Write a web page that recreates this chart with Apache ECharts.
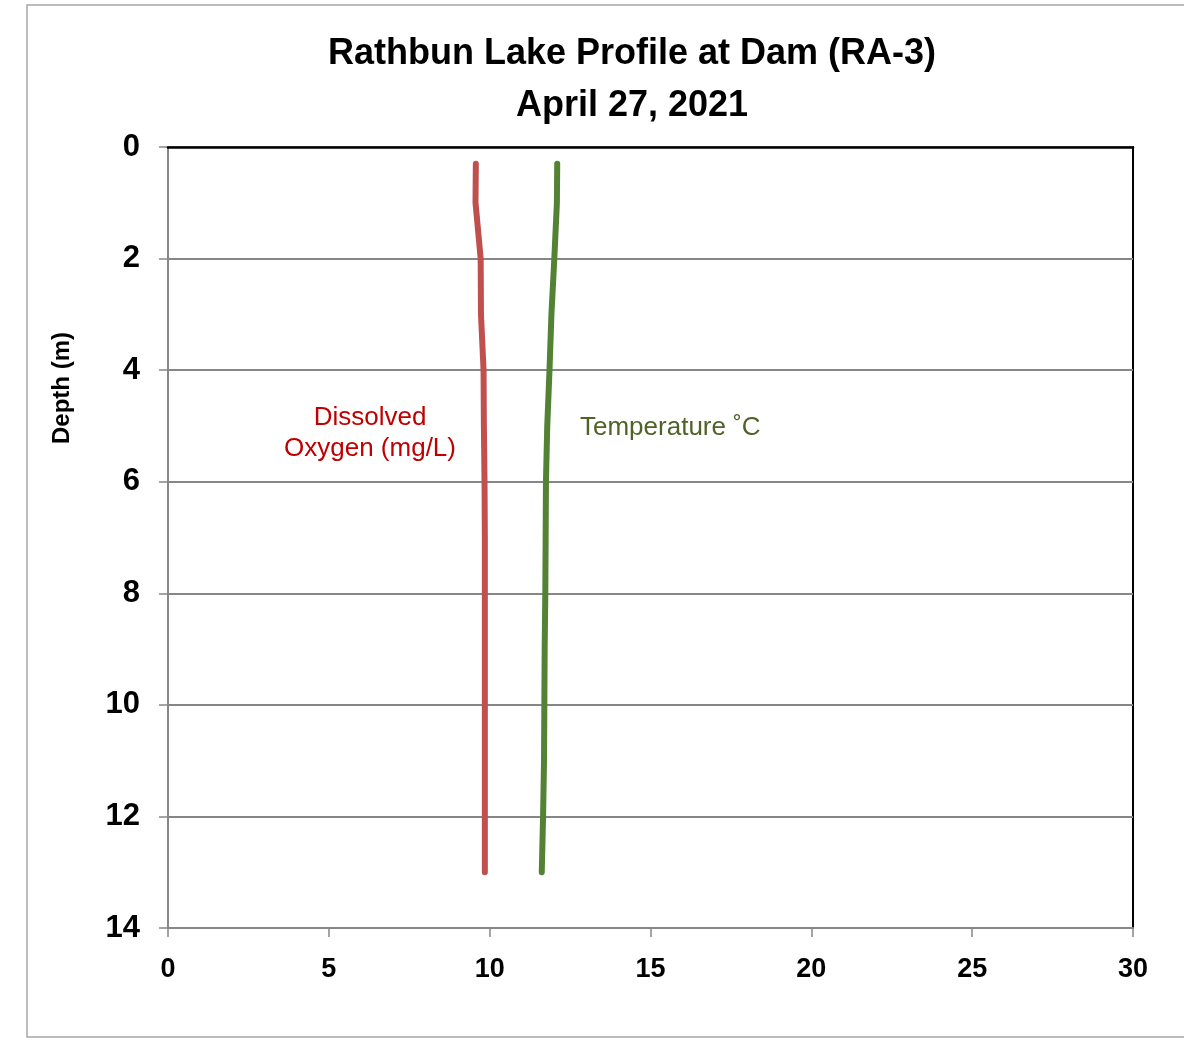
<!DOCTYPE html>
<html>
<head>
<meta charset="utf-8">
<script src="https://cdn.jsdelivr.net/npm/echarts@6/dist/echarts.min.js"></script>
<style>
  html, body { margin: 0; padding: 0; background: #fff; }
</style>
</head>
<body>
<div id="profile" style="width: 1184px;height:1048px;"></div>
<script>
// depth of each reading (m)
var depths = [0.3, 1, 2, 3, 4, 5, 6, 7, 8, 9, 10, 11, 12, 13]
// dissolved oxygen (mg/L)
var oxygen = [9.57, 9.56, 9.72, 9.73, 9.81, 9.82, 9.84, 9.85, 9.85, 9.85, 9.85, 9.85, 9.85, 9.85]
// temperature (C)
var temperature = [12.1, 12.09, 12.01, 11.92, 11.86, 11.79, 11.75, 11.74, 11.73, 11.71, 11.7, 11.69, 11.66, 11.62]
var xTicks = [0, 5, 10, 15, 20, 25, 30]
var yTicks = [0, 2, 4, 6, 8, 10, 12, 14]

function pairs (vals) {
  return vals.map(function (v, i) { return [v, depths[i]] })
}

var option = {
  animation: false,
  title: {
    text: 'Rathbun Lake Profile at Dam (RA-3)\nApril 27, 2021',
    left: 627,
    top: 23,
    textAlign: 'center',
    textStyle: {
      fontFamily: 'Liberation Sans',
      fontWeight: 'bold',
      fontSize: 36,
      lineHeight: 52,
      color: '#000'
    }
  },
  grid: {
    left: 168,
    top: 147,
    right: 51,
    bottom: 120,
    show: true,
    borderColor: '#000',
    borderWidth: 2
  },
  graphic: [
    {
      type: 'rect',
      shape: { x: 27, y: 5, width: 1200, height: 1032 },
      style: { fill: 'none', stroke: '#A6A6A6', lineWidth: 1.5 },
      z: -1
    },
    {
      // y axis title, sits above the middle like the original
      type: 'text',
      x: 62,
      y: 388,
      rotation: Math.PI / 2,
      style: {
        text: 'Depth (m)',
        align: 'center',
        verticalAlign: 'middle',
        fill: '#000',
        font: 'bold 24px "Liberation Sans"'
      }
    },
    {
      type: 'text',
      x: 370,
      y: 433,
      style: {
        text: 'Dissolved\nOxygen (mg/L)',
        align: 'center',
        verticalAlign: 'middle',
        fill: '#C00000',
        font: '26px "Liberation Sans"',
        lineHeight: 31
      }
    },
    {
      type: 'text',
      x: 580,
      y: 428,
      style: {
        text: 'Temperature ˚C',
        verticalAlign: 'middle',
        fill: '#4F6228',
        font: '26px "Liberation Sans"'
      }
    }
  ],
  xAxis: [
    {
      type: 'value',
      position: 'bottom',
      min: 0,
      max: 30,
      interval: 5,
      axisLine: { onZero: false, lineStyle: { color: '#868686', width: 2 } },
      axisTick: { show: true, length: 9, lineStyle: { color: '#868686', width: 1.5 } },
      splitLine: { show: false },
      axisLabel: {
        margin: 28,
        color: '#000',
        fontFamily: 'Liberation Sans',
        fontWeight: 'bold',
        fontSize: 27,
        formatter: function (v) { return xTicks.indexOf(v) >= 0 ? String(v) : '' }
      }
    },
    {
      // black top edge of the plot area
      type: 'value',
      position: 'top',
      min: 0,
      max: 30,
      interval: 5,
      z: 4,
      axisLine: { onZero: false, lineStyle: { color: '#000', width: 2.5 } },
      axisTick: { show: false },
      axisLabel: { show: false },
      splitLine: { show: false }
    }
  ],
  yAxis: {
    type: 'value',
    inverse: true,
    min: 0,
    max: 14,
    interval: 2,
    axisLine: { show: true, onZero: false, lineStyle: { color: '#868686', width: 2 } },
    axisTick: { show: true, length: 9, lineStyle: { color: '#868686', width: 1.5 } },
    splitLine: { show: true, lineStyle: { color: '#868686', width: 2 } },
    axisLabel: {
      margin: 28,
      color: '#000',
      fontFamily: 'Liberation Sans',
      fontWeight: 'bold',
      fontSize: 31,
      formatter: function (v) { return yTicks.indexOf(v) >= 0 ? String(v) : '' }
    }
  },
  series: [
    {
      name: 'Dissolved Oxygen (mg/L)',
      type: 'line',
      data: pairs(oxygen),
      showSymbol: false,
      lineStyle: { color: '#C0504D', width: 6, cap: 'round', join: 'round' },
      z: 3
    },
    {
      name: 'Temperature ˚C',
      type: 'line',
      data: pairs(temperature),
      showSymbol: false,
      lineStyle: { color: '#548235', width: 6, cap: 'round', join: 'round' },
      z: 3
    }
  ]
}

var myChart = echarts.init(document.getElementById('profile'))
myChart.setOption(option)
</script>
</body>
</html>
